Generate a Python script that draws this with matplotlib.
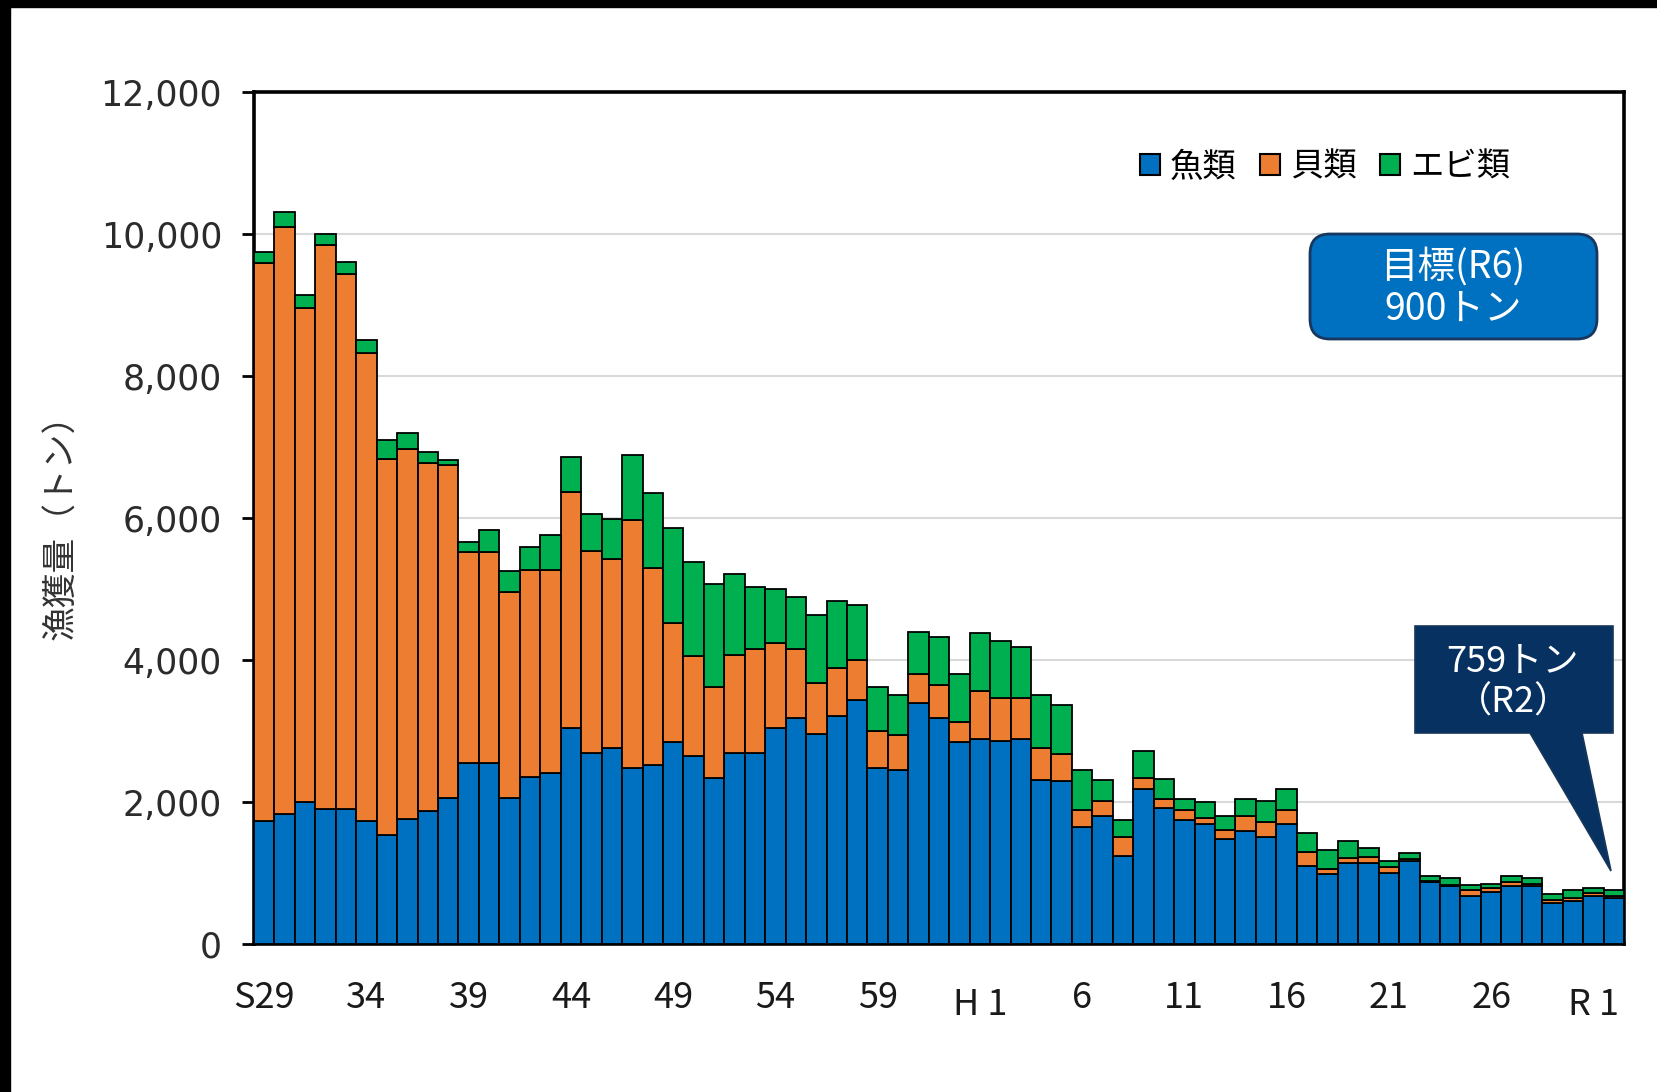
import matplotlib
matplotlib.use("Agg")
import matplotlib.pyplot as plt
from matplotlib.patches import Patch, Rectangle, FancyBboxPatch, Polygon
from matplotlib import transforms
from matplotlib.ticker import FuncFormatter

plt.rcParams['font.family'] = ['Noto Sans CJK JP', 'DejaVu Sans']

# ---- data (tons), S29 (1954) .. R2 (2020) ----
years = ['S29','S30','S31','S32','S33','S34','S35','S36','S37','S38','S39','S40','S41','S42','S43',
         'S44','S45','S46','S47','S48','S49','S50','S51','S52','S53','S54','S55','S56','S57','S58',
         'S59','S60','S61','S62','S63','H1','H2','H3','H4','H5','H6','H7','H8','H9','H10','H11',
         'H12','H13','H14','H15','H16','H17','H18','H19','H20','H21','H22','H23','H24','H25','H26',
         'H27','H28','H29','H30','R1','R2']
fish = [1730, 1834, 2007, 1903, 1903, 1730, 1536, 1765, 1869, 2055, 2554, 2554, 2055, 2357, 2415,
        3047, 2692, 2765, 2473, 2527, 2852, 2643, 2342, 2692, 2692, 3047, 3178, 2963, 3210, 3441,
        2472, 2449, 3394, 3177, 2848, 2881, 2858, 2881, 2303, 2290, 1645, 1802, 1239, 2183, 1915,
        1746, 1690, 1479, 1587, 1502, 1690, 1094, 990, 1146, 1142, 1000, 1170, 868, 811, 670, 726,
        811, 811, 575, 599, 670, 650]
shell = [7855, 8270, 6955, 7938, 7530, 6588, 5288, 5204, 4906, 4692, 2968, 2968, 2900, 2915, 2857,
         3314, 2843, 2663, 3499, 2765, 1672, 1409, 1273, 1385, 1458, 1190, 972, 710, 673, 554,
         527, 493, 404, 470, 278, 677, 611, 588, 461, 383, 239, 214, 268, 160, 127,
         141, 85, 127, 216, 212, 197, 197, 72, 61, 84, 85, 25, 17, 19, 85, 57,
         57, 29, 48, 47, 47, 20]
shrimp = [166, 207, 173, 152, 173, 187, 276, 228, 159, 70, 146, 312, 305, 316, 486,
          505, 519, 563, 918, 1064, 1331, 1332, 1458, 1132, 874, 763, 734, 967, 944, 776,
          616, 560, 592, 673, 672, 818, 794, 710, 738, 699, 566, 288, 239, 380, 282,
          155, 220, 197, 239, 300, 296, 272, 258, 240, 128, 90, 88, 68, 99, 80, 66,
          85, 89, 75, 118, 71, 89]
series_names = ['魚類', '貝類', 'エビ類']
tick_positions = [0, 5, 10, 15, 20, 25, 30, 35, 40, 45, 50, 55, 60, 65]
tick_labels = ['S29', '34', '39', '44', '49', '54', '59', 'H 1', '6', '11', '16', '21', '26', 'R 1']
target_text = '目標(R6)\n900トン'
latest_text = '759トン\n（R2）'

colors = ['#0070C0', '#ED7D31', '#00B050']

W, H = 1657, 1092
fig = plt.figure(figsize=(W / 100, H / 100), dpi=100)
fig.patch.set_facecolor('white')

# pixel (from top-left) -> figure transform
px = transforms.Affine2D().scale(1 / W, -1 / H).translate(0, 1) + fig.transFigure

# black frame strips of the original image
fig.patches.append(Rectangle((0, 0), W, 7, transform=px, color='black', zorder=0))
fig.patches.append(Rectangle((0, 0), 10, H, transform=px, color='black', zorder=0))

L, R, T, B = 254, 1624, 92, 944
ax = fig.add_axes([L / W, (H - B) / H, (R - L) / W, (B - T) / H])

x = list(range(len(years)))
bottom2 = [f + s for f, s in zip(fish, shell)]
kw = dict(width=1.0, edgecolor='black', linewidth=1.3, zorder=3)
ax.bar(x, fish, color=colors[0], **kw)
ax.bar(x, shell, bottom=fish, color=colors[1], **kw)
ax.bar(x, shrimp, bottom=bottom2, color=colors[2], **kw)

ax.set_xlim(-0.5, len(years) - 0.5)
ax.set_ylim(0, 12000)
ax.set_yticks(range(0, 12001, 2000))
ax.yaxis.set_major_formatter(FuncFormatter(lambda v, p: f'{int(v):,}'))
ax.grid(axis='y', color='#d9d9d9', linewidth=1.5, zorder=0)
ax.set_axisbelow(True)
for sp in ax.spines.values():
    sp.set_linewidth(2.6)
    sp.set_color('black')

ax.tick_params(axis='y', direction='out', length=9, width=2, pad=14,
               labelsize=25, labelcolor='#2b2b2b')
for lab in ax.get_yticklabels():
    lab.set_fontfamily('DejaVu Sans')

ax.set_xticks(tick_positions)
ax.set_xticklabels(tick_labels)
ax.tick_params(axis='x', length=0, pad=26, labelsize=26, labelcolor='#1a1a1a')
for t, lab in zip(ax.xaxis.get_major_ticks(), tick_labels):
    if lab.startswith(('H', 'R')):
        t.set_pad(31)

ax.set_ylabel('漁獲量（トン）', fontsize=25, color='#333333', labelpad=15)

handles = [Patch(facecolor=c, edgecolor='black', linewidth=1.5) for c in colors]
ax.legend(handles, series_names, loc='center', bbox_to_anchor=((1325 - L) / (R - L), (B - 167) / (B - T)),
          ncol=3, frameon=False, fontsize=24, handlelength=0.6, handleheight=0.6,
          handletextpad=0.3, columnspacing=0.7)

# target box (rounded)
box = FancyBboxPatch((1310, 234), 287, 105, boxstyle='round,pad=0,rounding_size=20',
                     transform=px, facecolor='#0070C0', edgecolor='#17375E', linewidth=2, zorder=5)
fig.patches.append(box)
fig.text(1453 / W, 1 - 288 / H, target_text, ha='center', va='center', color='white',
         fontsize=27, linespacing=1.12, zorder=6)

# callout for latest value
call = Polygon([(1415, 626), (1613, 626), (1613, 733), (1582, 733), (1611, 871), (1530, 733), (1415, 733)],
               closed=True, transform=px, facecolor='#073161', edgecolor='#16375a', linewidth=1.2, zorder=5)
fig.patches.append(call)
fig.text(1513 / W, 1 - 682 / H, latest_text, ha='center', va='center', color='white',
         fontsize=26, linespacing=1.15, zorder=6)

fig.savefig('out.png', dpi=100, facecolor='white')
